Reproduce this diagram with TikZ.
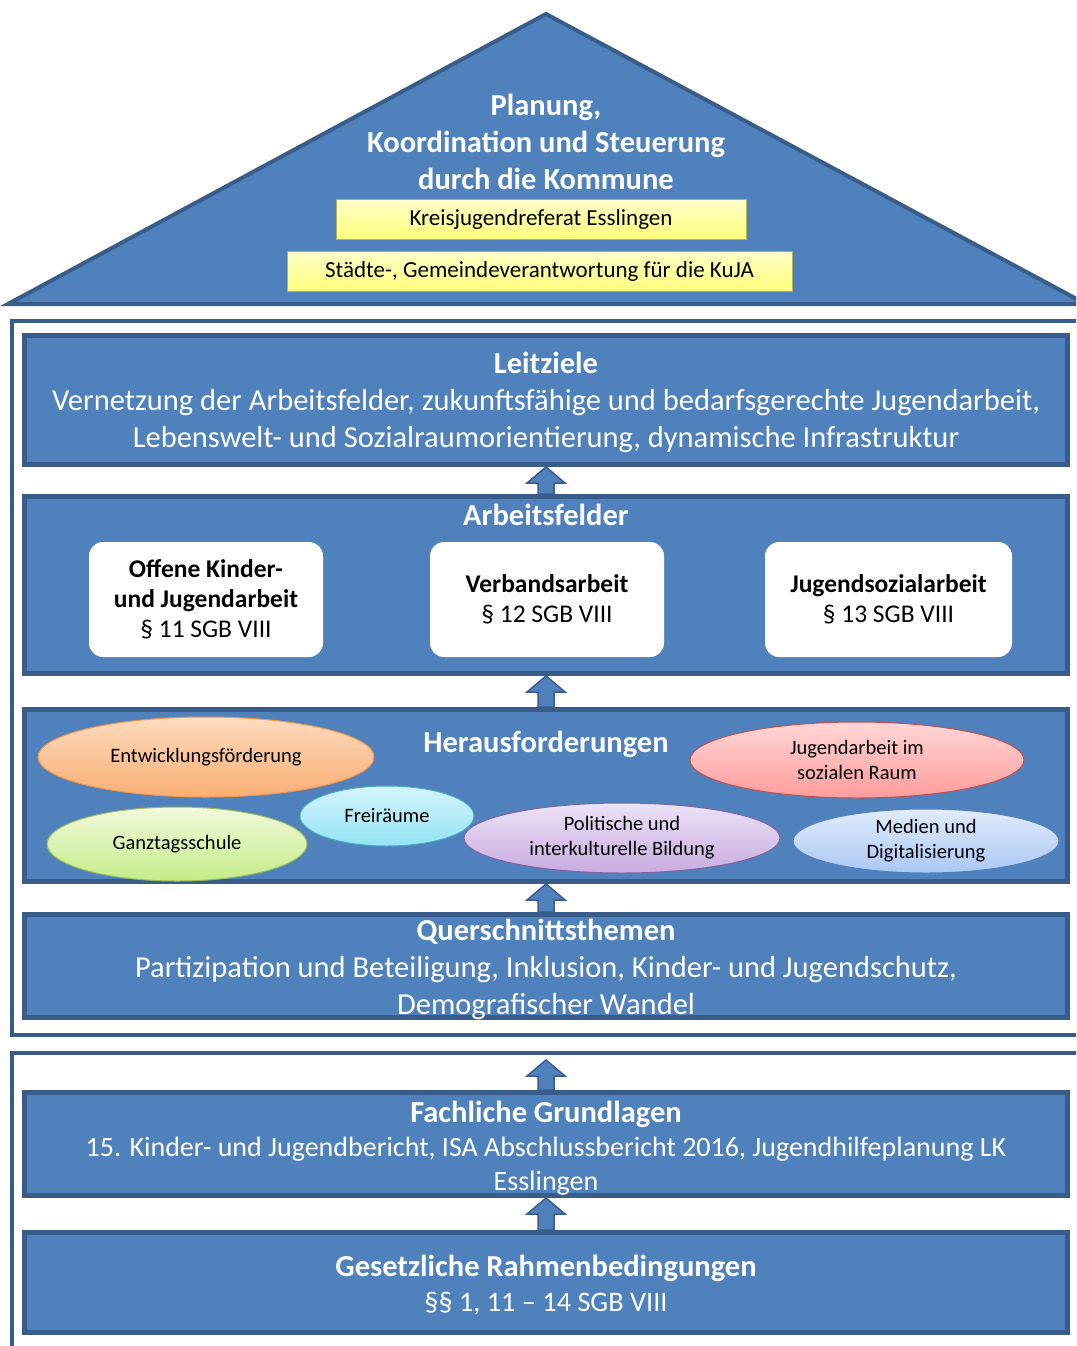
\documentclass[tikz,border=0pt]{standalone}
\usepackage{fontspec}
\setmainfont{Carlito}
\usetikzlibrary{shapes.geometric,calc}
\definecolor{boxblue}{HTML}{4F81BD}
\definecolor{boxedge}{HTML}{385D8A}
\definecolor{ylwtop}{HTML}{FFFFC8}
\definecolor{ylwbot}{HTML}{FFFF7A}
\definecolor{orgtop}{HTML}{FDDCBE}
\definecolor{orgbot}{HTML}{FAAE74}
\definecolor{orgedge}{HTML}{F79646}
\definecolor{redtop}{HTML}{FFD6D6}
\definecolor{redbot}{HTML}{FF9C9C}
\definecolor{rededge}{HTML}{C0504D}
\definecolor{cyntop}{HTML}{D4F5FC}
\definecolor{cynbot}{HTML}{93E4F5}
\definecolor{cynedge}{HTML}{4BACC6}
\definecolor{grntop}{HTML}{F2FADC}
\definecolor{grnbot}{HTML}{C4EC88}
\definecolor{grnedge}{HTML}{9BBB59}
\definecolor{lavtop}{HTML}{ECE3F5}
\definecolor{lavbot}{HTML}{C8ABE2}
\definecolor{lavedge}{HTML}{8064A2}
\definecolor{lbltop}{HTML}{E2ECFB}
\definecolor{lblbot}{HTML}{A9C7F6}
\tikzset{
  roof/.style={draw=boxedge, fill=boxblue, line width=4pt},
  frame/.style={draw=boxedge, line width=4.5pt},
  layer/.style={draw=boxedge, fill=boxblue, line width=5pt, minimum width=1043pt,
    text=white, align=center, inner sep=0pt, font=\fontsize{30.5}{37}\selectfont},
  title/.style={text=white, align=center, font=\bfseries\fontsize{30.5}{37}\selectfont},
  yellowbox/.style={draw=ylwbot!70!black, line width=0.6pt, top color=ylwtop, bottom color=ylwbot,
    minimum height=40pt, inner sep=0pt, font=\fontsize{23}{26}\selectfont},
  field/.style={fill=white, rounded corners=14pt, minimum width=234pt, minimum height=115pt,
    align=center, inner sep=0pt, font=\fontsize{25.5}{30}\selectfont},
  topic/.style n args={3}{ellipse, draw=#3, line width=1pt, top color=#1, bottom color=#2,
    inner sep=0pt, align=center, font=\fontsize{20.5}{25}\selectfont},
  blockarrow/.style={draw=boxedge, fill=boxblue, line width=1.5pt,
    to path={let \p1=(\tikztostart), \p2=(\tikztotarget) in
      (\x1-8pt,\y1) -- (\x1-8pt,\y2-16pt) -- (\x1-19pt,\y2-16pt) -- (\x2,\y2)
      -- (\x1+19pt,\y2-16pt) -- (\x1+8pt,\y2-16pt) -- (\x1+8pt,\y1) -- cycle}},
}
\begin{document}
\begin{tikzpicture}[x=1pt,y=-1pt]
\clip (0,0) rectangle (1076,1346);
% Dach
\draw[roof] (8,304) -- (546,14) -- (1086,304) -- cycle;
\node[title] (planung) at (546,142) {Planung,\\Koordination und Steuerung\\durch die Kommune};
\node[yellowbox, minimum width=410pt] (kjr) at (541,219.5) {Kreisjugendreferat Esslingen};
\node[yellowbox, minimum width=505pt] (staedte) at (539.5,271.5) {Städte-, Gemeindeverantwortung für die KuJA};
% Rahmen
\draw[frame] (12,321) rectangle (1100,1035);
\draw[frame] (12,1053) rectangle (1100,1370);
% Ebenen
\node[layer, minimum height=129pt] (leit) at (546,400) {};
\node[title, font=\fontsize{30.5}{37}\selectfont] (leittext) at (546,402) {\textbf{Leitziele}\\
  Vernetzung der Arbeitsfelder, zukunftsfähige und bedarfsgerechte Jugendarbeit,\\
  Lebenswelt- und Sozialraumorientierung, dynamische Infrastruktur};
\node[layer, minimum height=177pt] (arbeit) at (546,585) {};
\node[title] (arbeittitle) at (546,515) {Arbeitsfelder};
\node[field] (offen) at (206,599.5) {\textbf{Offene Kinder-}\\\textbf{und Jugendarbeit}\\§ 11 SGB VIII};
\node[field] (verband) at (547,599.5) {\textbf{Verbandsarbeit}\\§ 12 SGB VIII};
\node[field, minimum width=247pt] (jsa) at (888.5,599.5) {\textbf{Jugendsozialarbeit}\\§ 13 SGB VIII};
\node[layer, minimum height=172pt] (heraus) at (546,795.5) {};
\node[title] (heraustitle) at (546,744) {Herausforderungen};
\node[topic={orgtop}{orgbot}{orgedge}, minimum width=336pt, minimum height=80pt] (entw) at (206,757) {Entwicklungsförderung};
\node[topic={redtop}{redbot}{rededge}, minimum width=334pt, minimum height=76pt] (sozraum) at (857,760) {Jugendarbeit im\\sozialen Raum};
\node[topic={cyntop}{cynbot}{cynedge}, minimum width=174pt, minimum height=60pt] (frei) at (387,816) {Freiräume};
\node[topic={grntop}{grnbot}{grnedge}, minimum width=260pt, minimum height=74pt] (ganztag) at (177,844) {Ganztagsschule};
\node[topic={lavtop}{lavbot}{lavedge}, minimum width=316pt, minimum height=70pt] (politik) at (622,838) {Politische und\\interkulturelle Bildung};
\node[topic={lbltop}{lblbot}{boxblue}, minimum width=266pt, minimum height=64pt] (medien) at (926,841) {Medien und\\Digitalisierung};
\node[layer, minimum height=103pt] (quer) at (546,966) {};
\node[title, font=\fontsize{30.5}{37}\selectfont] (quertext) at (546,969) {\textbf{Querschnittsthemen}\\
  Partizipation und Beteiligung, Inklusion, Kinder- und Jugendschutz,\\
  Demografischer Wandel};
\node[layer, minimum height=103pt] (fach) at (546,1144) {};
\node[title, font=\fontsize{28}{34}\selectfont] (fachtext) at (546,1148) {\textbf{\fontsize{30.5}{34}\selectfont Fachliche Grundlagen}\\
  15. Kinder- und Jugendbericht, ISA Abschlussbericht 2016, Jugendhilfeplanung LK\\
  Esslingen};
\node[layer, minimum height=100pt] (gesetz) at (546,1282.5) {};
\node[title, font=\fontsize{28.3}{35}\selectfont] (gesetztext) at (546,1285.5) {\textbf{\fontsize{30.5}{35}\selectfont Gesetzliche Rahmenbedingungen}\\
  §§ 1, 11 -- 14 SGB VIII};
% Pfeile
\coordinate (fachtop) at (546,1060);
\draw[blockarrow] (arbeit.north) to (leit.south);
\draw[blockarrow] (heraus.north) to (arbeit.south);
\draw[blockarrow] (quer.north) to (heraus.south);
\draw[blockarrow] (fach.north) to (fachtop);
\draw[blockarrow] (gesetz.north) to (fach.south);
\end{tikzpicture}
\end{document}
